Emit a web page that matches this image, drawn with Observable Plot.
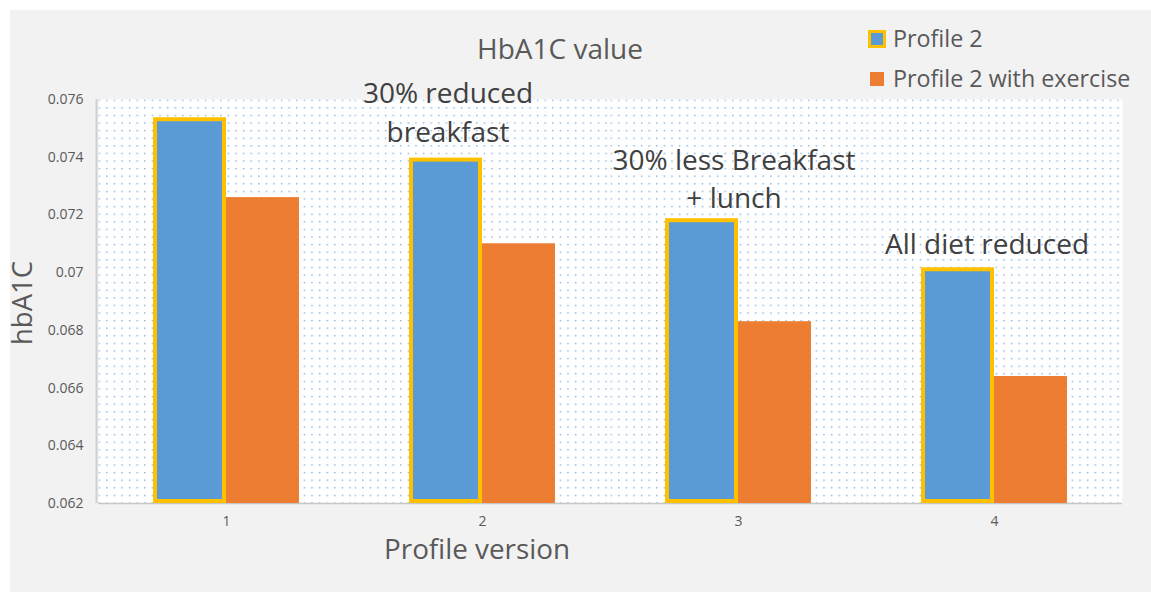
<!DOCTYPE html>
<html>
<head>
<meta charset="utf-8">
<script src="https://cdn.jsdelivr.net/npm/d3@7"></script>
<script src="https://cdn.jsdelivr.net/npm/@observablehq/plot@0.6"></script>
<style>
  body { margin: 0; background: #ffffff; font-family: "Open Sans", sans-serif; }
  #wrap { position: relative; width: 1151px; height: 592px; overflow: hidden; background: #ffffff; }
  #panel { position: absolute; left: 10px; top: 10px; right: 0; bottom: 0; background: #f2f2f2; }
  #chart { position: absolute; left: 0; top: 0; }
  .lbl { position: absolute; line-height: 1; white-space: nowrap; color: #595959; }
  .sw { position: absolute; box-sizing: border-box; }
</style>
</head>
<body>
<div id="wrap">
  <div id="panel"></div>
  <div id="chart"></div>
  <div class="lbl" id="title" style="font-size:28px; left:560px; top:34.1px; transform:translateX(-50%);">HbA1C value</div>
  <div class="sw" style="left:868px; top:30px; width:18px; height:18px; background:#5b9bd5; border:3px solid #ffc000;"></div>
  <div class="lbl" style="font-size:23.3px; left:893px; top:27px;">Profile 2</div>
  <div class="sw" style="left:870px; top:72px; width:14px; height:14px; background:#ed7d31;"></div>
  <div class="lbl" style="font-size:23.3px; left:893px; top:66.6px;">Profile 2 with exercise</div>
  <div class="lbl" style="font-size:27.8px; line-height:0.75; left:477px; top:537.8px; transform:translateX(-50%);">Profile version</div>
  <div class="lbl" style="font-size:27.5px; line-height:0.75; left:33px; top:303px; transform-origin:0 0; transform:rotate(-90deg) translate(-50%, -101.7%);">hbA1C</div>
</div>
<script>
// ---- data ----
const profiles = [1, 2, 3, 4];
const series = ["Profile 2", "Profile 2 with exercise"];
const profile2 = [0.0753, 0.0739, 0.0718, 0.0701];
const profile2Exercise = [0.0726, 0.0710, 0.0683, 0.0664];
const yTicks = [0.062, 0.064, 0.066, 0.068, 0.070, 0.072, 0.074, 0.076];
const yTickLabels = ["0.062", "0.064", "0.066", "0.068", "0.07", "0.072", "0.074", "0.076"];
const annotationProfiles = [2, 3, 4];
const annotationTexts = ["30% reduced\nbreakfast", "30% less Breakfast\n+ lunch", "All diet reduced"];

const blueRows = profiles.map((p, i) => ({profile: p, series: series[0], value: profile2[i]}));
const orangeRows = profiles.map((p, i) => ({profile: p, series: series[1], value: profile2Exercise[i]}));
const annRows = annotationProfiles.map((p, k) => ({
  profile: p, series: series[0], text: annotationTexts[k], value: profile2[profiles.indexOf(p)]
}));

const base = yTicks[0];
const annText = (k, opts) => Plot.text([annRows[k]], {
  fx: "profile", x: "series", y: "value", text: "text",
  fontSize: 28, lineHeight: 1.375, lineAnchor: "bottom", fill: "#404040", textAnchor: "middle",
  ...opts
});

const chart = Plot.plot({
  width: 1151,
  height: 592,
  marginLeft: 97,
  marginRight: 29,
  marginTop: 99,
  marginBottom: 89,
  style: {background: "transparent", fontFamily: "Open Sans", fontSize: "14px", color: "#595959", overflow: "visible"},
  fx: {domain: profiles, padding: 0, tickSize: 0, tickPadding: 13, label: null},
  x: {domain: series, paddingInner: 0, paddingOuter: 0.743, axis: null},
  y: {
    domain: [yTicks[0], yTicks[yTicks.length - 1]],
    ticks: yTicks,
    tickFormat: d => yTickLabels[yTicks.findIndex(t => Math.abs(t - d) < 1e-9)],
    tickSize: 0, tickPadding: 15, label: null
  },
  marks: [
    Plot.frame({fill: "white", stroke: null}),
    Plot.frame({fill: "url(#dots)", stroke: null}),
    Plot.ruleY([base], {stroke: "#c6c6c6", strokeWidth: 1.5}),
    Plot.barY(orangeRows, {fx: "profile", x: "series", y1: base, y2: "value", fill: "#ed7d31"}),
    Plot.barY(blueRows, {fx: "profile", x: "series", y1: base, y2: "value", fill: "#5b9bd5",
      stroke: "#ffc000", strokeWidth: 4, insetLeft: 2, insetRight: 2, insetBottom: 2}),
    annText(0, {dx: 2, dy: -18.5}),
    annText(1, {dx: 32, dy: -12.5}),
    annText(2, {dx: 29, dy: -15.5})
  ]
});

const svg = d3.select(chart);
svg.insert("defs", ":first-child").html(
  `<pattern id="dots" patternUnits="userSpaceOnUse" x="97" y="99" width="7.6" height="7.6">
     <rect x="0" y="0" width="1.4" height="1.4" fill="#7fb1e0"></rect>
   </pattern>`
);
// left axis line, from the y scale range
const yr = chart.scale("y").range;
svg.append("line")
  .attr("x1", 96.5).attr("x2", 96.5)
  .attr("y1", Math.min(...yr)).attr("y2", Math.max(...yr))
  .attr("stroke", "#cfcfcf").attr("stroke-width", 2);

document.getElementById("chart").appendChild(chart);
</script>
</body>
</html>
